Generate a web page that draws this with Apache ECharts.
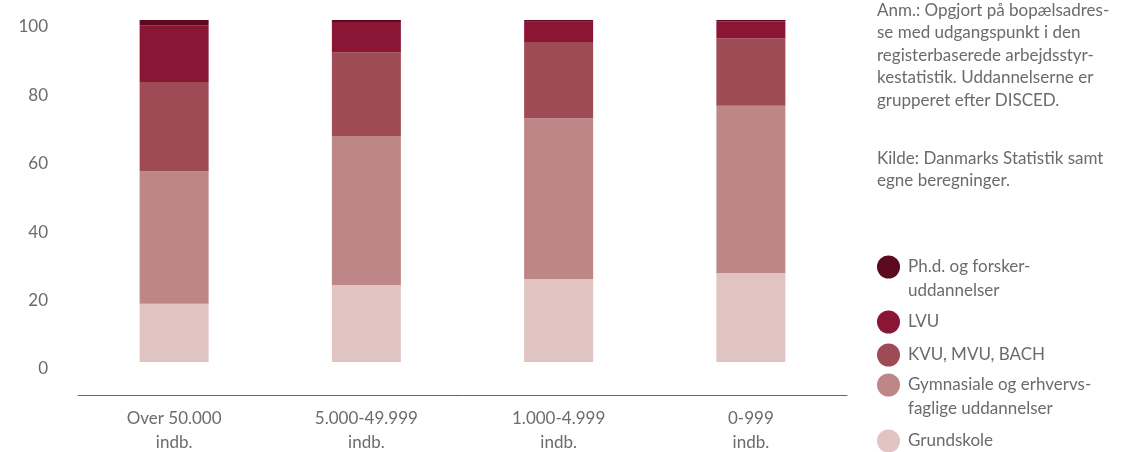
<!DOCTYPE html>
<html>
<head>
<meta charset="utf-8">
<script src="https://cdn.jsdelivr.net/npm/echarts@6/dist/echarts.min.js"></script>
<style>
  html, body { margin: 0; padding: 0; background: #fff; }
  #chart { width: 1126px; height: 452px; }
</style>
</head>
<body>
<div id="chart"></div>
<script>
  // data (percent of each group)
  var categories = ['Over 50.000\nindb.', '5.000-49.999\nindb.', '1.000-4.999\nindb.', '0-999\nindb.'];
  var grundskole = [17.0, 22.5, 24.3, 26.0];
  var gymnasiale = [38.8, 43.6, 47.0, 48.9];
  var kvu = [26.1, 24.5, 22.3, 19.8];
  var lvu = [16.6, 8.8, 5.9, 4.9];
  var phd = [1.5, 0.6, 0.5, 0.4];

  var seriesNames = ['Grundskole', 'Gymnasiale og erhvervs-\nfaglige uddannelser', 'KVU, MVU, BACH', 'LVU', 'Ph.d. og forsker-\nuddannelser'];
  var seriesColors = ['#e0c4c2', '#bd8687', '#9e4b55', '#8a1535', '#5c0a1f'];
  var seriesData = [grundskole, gymnasiale, kvu, lvu, phd];

  var noteText = 'Anm.: Opgjort på bopælsadres-\nse med udgangspunkt i den\nregisterbaserede arbejdsstyr-\nkestatistik. Uddannelserne er\ngrupperet efter DISCED.';
  var sourceText = 'Kilde: Danmarks Statistik samt\negne beregninger.';

  var textColor = '#6b6b6b';
  var fontFamily = 'Lato, "Open Sans", sans-serif';

  // legend rows, top to bottom, with the y of each circle centre
  var legendOrder = [4, 3, 2, 1, 0];
  var legendCentres = [267, 322, 355, 385, 441];

  var legends = legendOrder.map(function (idx, i) {
    var name = seriesNames[idx];
    var twoLines = name.indexOf('\n') >= 0;
    return {
      orient: 'vertical',
      left: 877,
      top: twoLines ? legendCentres[i] - 36 : legendCentres[i] - 12,
      padding: 0,
      icon: 'circle',
      itemWidth: 23,
      itemHeight: 23,
      selectedMode: false,
      data: [name],
      // an empty first line keeps the circle level with the first text line
      formatter: function (n) {
        return n.indexOf('\n') >= 0 ? ' \n' + n : n;
      },
      textStyle: {
        color: textColor,
        fontSize: 17,
        lineHeight: 24,
        padding: [0, 0, 0, 3],
        fontFamily: fontFamily
      }
    };
  });

  var series = seriesData.map(function (d, i) {
    return {
      name: seriesNames[i],
      type: 'bar',
      stack: 'total',
      barWidth: 69,
      data: d,
      itemStyle: { color: seriesColors[i] },
      emphasis: { disabled: true }
    };
  });

  var chart = echarts.init(document.getElementById('chart'));
  chart.setOption({
    animation: false,
    grid: { left: 78, right: 279, top: 20, bottom: 90, outerBoundsMode: 'none', containLabel: false },
    legend: legends,
    xAxis: {
      type: 'category',
      data: categories,
      offset: 33,
      axisLine: { onZero: false, lineStyle: { color: '#666', width: 1 } },
      axisTick: { show: false },
      axisLabel: {
        interval: 0,
        margin: 12,
        color: textColor,
        fontSize: 17,
        lineHeight: 24,
        fontFamily: fontFamily
      }
    },
    yAxis: {
      type: 'value',
      min: 0,
      max: 100,
      interval: 20,
      axisLine: { show: false },
      axisTick: { show: false },
      splitLine: { show: false },
      axisLabel: {
        margin: 30,
        verticalAlign: 'top',
        lineHeight: 14,
        color: textColor,
        fontSize: 17,
        fontFamily: fontFamily
      }
    },
    graphic: [
      {
        type: 'text',
        left: 877,
        top: -1,
        style: { text: noteText, fill: textColor, font: '17px ' + fontFamily, lineHeight: 22.5 }
      },
      {
        type: 'text',
        left: 877,
        top: 147,
        style: { text: sourceText, fill: textColor, font: '17px ' + fontFamily, lineHeight: 22.5 }
      }
    ],
    series: series
  });
</script>
</body>
</html>
